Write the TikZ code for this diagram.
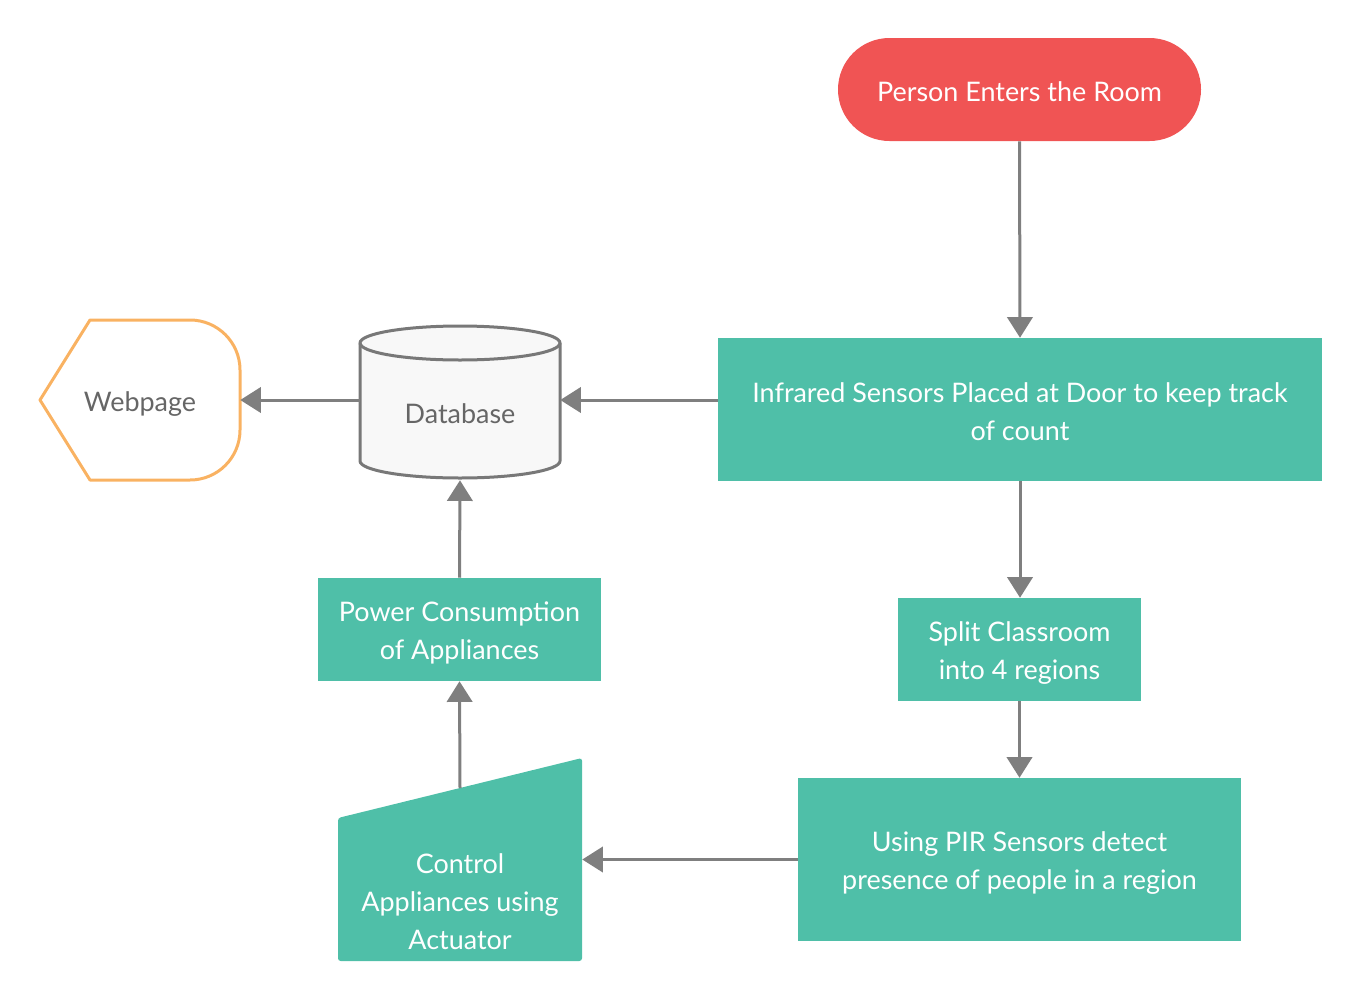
\documentclass[tikz,border=0pt]{standalone}
\usepackage{fontspec}
\setmainfont{Lato}
\usetikzlibrary{arrows.meta,calc}
\definecolor{boxgreen}{HTML}{4FBFA8}
\definecolor{startred}{HTML}{F05454}
\definecolor{weborange}{HTML}{F9B262}
\definecolor{arrgray}{HTML}{7F7F7F}
\definecolor{dbstroke}{HTML}{787878}
\definecolor{dbfill}{HTML}{F8F8F8}
\definecolor{txtgray}{HTML}{666666}
\tikzset{
  txt/.style={font=\fontsize{20.2pt}{28.5pt}\selectfont, align=center},
  wtxt/.style={txt, text=white, yshift=-2.8pt},
  greenbox/.style={fill=boxgreen, inner sep=0pt},
  startbox/.style={fill=startred, rounded corners=38.6pt, inner sep=0pt},
  area/.style={draw=none, inner sep=0pt},
  arr/.style={draw=arrgray, line width=2.25pt, -{Triangle[length=15.5pt,width=19pt]}},
  dbline/.style={draw=dbstroke, line width=2.25pt},
  webline/.style={draw=weborange, line width=2.25pt, line join=round},
}
\begin{document}
\begin{tikzpicture}[x=0.75pt,y=-0.75pt]
\useasboundingbox (0,0) rectangle (1360,1000);

% start
\node[startbox, minimum width=272.25pt, minimum height=77.25pt] (person) at (1019.5,89.5) {};
\node[txt, text=white] (persontext) at (1019.5,91.5) {Person Enters the Room};

% green boxes
\node[greenbox, minimum width=453pt, minimum height=107.25pt] (ir) at (1020,409.5) {};
\node[wtxt, yshift=1.5pt] (irtext) at (ir.center) {Infrared Sensors Placed at Door to keep track\\of count};
\node[greenbox, minimum width=182.25pt, minimum height=77.25pt] (split) at (1019.5,649.5) {};
\node[wtxt] (splittext) at (split.center) {Split Classroom\\into 4 regions};
\node[greenbox, minimum width=332.25pt, minimum height=122.25pt] (pir) at (1019.5,859.5) {};
\node[wtxt] (pirtext) at (pir.center) {Using PIR Sensors detect\\presence of people in a region};
\node[greenbox, minimum width=212.25pt, minimum height=77.25pt] (power) at (459.5,629.5) {};
\node[wtxt] (powertext) at (power.center) {Power Consumption\\of Appliances};

% control appliances (manual input)
\fill[boxgreen, rounded corners=2pt] (338,818) -- (582,758) -- (582,961) -- (338,961) -- cycle;
\node[area, minimum width=183pt, minimum height=152.25pt] (ctrl) at (460,859.5) {};
\node[txt, text=white] (ctrltext) at (460,902) {Control\\Appliances using\\Actuator};
\coordinate (ctrltop) at (460,788);

% database cylinder
\path[dbline, fill=dbfill] (360,343) -- (360,461)
  arc[start angle=180, end angle=360, x radius=75pt, y radius=12.75pt]
  -- (560,343)
  arc[start angle=0, end angle=180, x radius=75pt, y radius=12.75pt] -- cycle;
\draw[dbline] (360,343) arc[start angle=180, end angle=360, x radius=75pt, y radius=12.75pt];
\node[area, minimum width=150pt, minimum height=120pt] (db) at (460,400) {};
\node[txt, text=txtgray] (dbtext) at (460,414) {Database};

% webpage display shape
\draw[webline] (40,400) -- (90,320) -- (190,320)
  arc[start angle=90, end angle=0, radius=37.5pt] -- (240,430)
  arc[start angle=0, end angle=-90, radius=37.5pt] -- (90,480) -- cycle;
\node[area, minimum width=150pt, minimum height=120pt] (web) at (140,400) {};
\node[txt, text=txtgray] (webtext) at (140,404) {Webpage};

% connectors
\draw[arr] (person.south) -- (ir.north);
\draw[arr] (ir.west |- db.east) -- (db.east);
\draw[arr] (db.west) -- (web.east);
\draw[arr] (ir.south) -- (ir.south |- split.north);
\draw[arr] (split.south) -- (pir.north);
\draw[arr] (pir.west) -- (pir.west -| ctrl.east);
\draw[arr] (ctrltop) -- (power.south);
\draw[arr] (power.north) -- (db.south);
\end{tikzpicture}
\end{document}
